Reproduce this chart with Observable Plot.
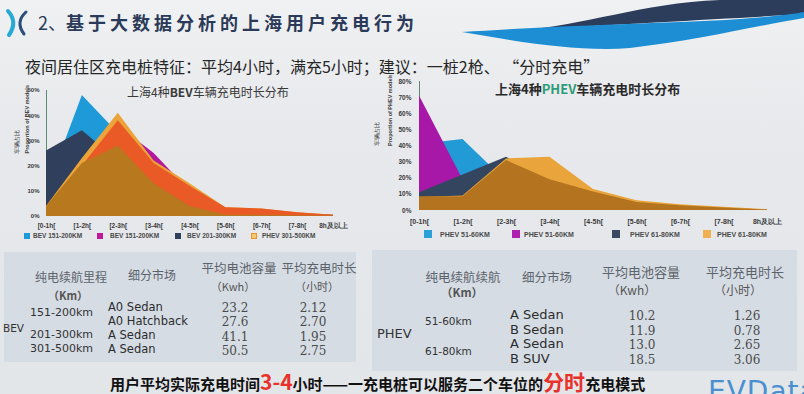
<!DOCTYPE html>
<html><head><meta charset="utf-8">
<script src="https://cdn.jsdelivr.net/npm/d3@7"></script>
<script src="https://cdn.jsdelivr.net/npm/@observablehq/plot@0.6"></script>
<style>
html,body{margin:0;padding:0;}
body{width:804px;height:394px;overflow:hidden;position:relative;
 background:linear-gradient(180deg,#f0f1f3 0px,#eceef0 40px,#e7e9ec 130px,#e3e6e9 394px);
 font-family:"Noto Sans CJK SC","Noto Sans",sans-serif;}
.abs{position:absolute;white-space:nowrap;line-height:1;}
.box{position:absolute;background:#d5dce4;}
</style></head><body>
<svg class="abs" style="left:0;top:0" width="804" height="60">
  <path d="M520,30 C585,26 640,3 720,0 L804,0 L804,14 C740,18 640,23 520,30 Z" fill="#2c3d5b"/>
  <path d="M462,32 C520,28 600,25 680,22 C740,20 790,15 804,12 L804,18 C760,25 700,40 630,48 C580,52 520,42 462,32 Z" fill="#1d8ed4"/>
  <path d="M8,11 Q18,22 9,35" stroke="#27a9d6" stroke-width="4" fill="none" stroke-linecap="round"/>
  <path d="M26,12 Q15,22 24,34" stroke="#2a4f7a" stroke-width="3" fill="none" stroke-linecap="round"/>
</svg>
<div class="box" style="left:4px;top:252px;width:352px;height:110px"></div>
<div class="box" style="left:372px;top:250px;width:425px;height:121px"></div>
<div id="left" class="abs" style="left:5px;top:82px"></div>
<div id="right" class="abs" style="left:370px;top:75px"></div>
<script>
// ---------------- data ----------------
const hours = ["[0-1h[","[1-2h[","[2-3h[","[3-4h[","[4-5h[","[5-6h[","[6-7h[","[7-8h[","8h及以上"];

// BEV chart layers (percent), back to front as seen in the picture
const bevBlue    = [10, 48, 33, 18, 9, 2, 2, 1, 0.5];
const bevMagenta = [5, 15, 36, 25, 10, 2, 2, 1, 0.5];
const bevNavy    = [26, 34, 22, 12, 6, 1, 1, 0.5, 0.3];
const bevGold    = [4, 23, 41, 22, 13, 3.5, 3, 1.5, 0.5];
const bevOrange  = [3, 20, 38, 21, 12, 3.5, 3, 1.5, 0.5];
const bevBrown   = [4, 21, 28, 13, 4, 0.5, 0.5, 0.3, 0.2];
const bevTicks   = [0, 10, 20, 30, 40, 50];
const bevLegend  = ["BEV 151-200KM","BEV 151-200KM","BEV 201-300KM","PHEV 301-500KM"];

// PHEV chart layers (percent)
const phevBlue    = [41, 44, 18, 10, 6, 3, 2, 1, 0.3];
const phevMagenta = [71, 19, 12, 8, 5, 3, 2, 1, 0.3];
const phevNavy    = [11, 22, 33, 18, 10, 5, 3, 1.5, 0.3];
const phevGold    = [8, 9, 32, 33, 13, 6, 3.5, 2, 0.5];
const phevBrown   = [8.5, 8.5, 31, 19, 11.5, 5, 3, 1.5, 0.3];
const phevTicks   = [0, 10, 20, 30, 40, 50, 60, 70, 80];
const phevLegend  = ["PHEV 51-60KM","PHEV 51-60KM","PHEV 61-80KM","PHEV 61-80KM"];

// tables
const bevRanges   = ["151-200km","201-300km","301-500km"];
const bevRangeRows = [[0,1],[2],[3]];
const bevSegments = ["A0 Sedan","A0 Hatchback","A Sedan","A Sedan"];
const bevCapacity = [23.2, 27.6, 41.1, 50.5];
const bevTime     = [2.12, 2.70, 1.95, 2.75];
const phevRanges   = ["51-60km","61-80km"];
const phevRangeRows = [[0,1],[2,3]];
const phevSegments = ["A Sedan","B Sedan","A Sedan","B SUV"];
const phevCapacity = [10.2, 11.9, 13.0, 18.5];
const phevTime     = [1.26, 0.78, 2.65, 3.06];

// ---------------- helpers ----------------
function put(html, x, y, style = {}, align = "left") {
  const d = document.createElement("div");
  d.className = "abs";
  d.style.left = x + "px";
  d.style.top = y + "px";
  const tx = align === "center" ? "-50%" : align === "right" ? "-100%" : "0";
  d.style.transform = `translate(${tx},-50%)`;
  Object.assign(d.style, style);
  d.innerHTML = html;
  document.body.appendChild(d);
  return d;
}

// ---------------- texts ----------------
put('<span style="font-weight:400;letter-spacing:0">2、</span>基于大数据分析的上海用户充电行为', 38, 22,
    {fontSize:"18px", fontWeight:"700", color:"#2b3a58", letterSpacing:"4px"});
put('夜间居住区充电桩特征：平均4小时，满充5小时；建议：一桩2枪、 “分时充电”', 25, 66,
    {fontSize:"16px", color:"#262626"});
put('上海4种<b>BEV</b>车辆充电时长分布', 127, 92, {fontSize:"12px", color:"#3a3a3a"});
put('上海4种<span style="color:#2d9c78">PHEV</span>车辆充电时长分布', 495, 88, {fontSize:"13px", fontWeight:"700", color:"#2a2a2a"});

// ---------------- charts ----------------
const tickFont = "Liberation Sans, Arial, sans-serif";
function areaChart({layers, ticks, ymax, width, height, mL, mR, mT, mB, pad, xPad, fs, label, dxA, dxB}) {
  return Plot.plot({
    width, height, marginLeft: mL, marginRight: mR, marginTop: mT, marginBottom: mB,
    style: {background: "transparent", fontFamily: tickFont, color: "#3a3a3a", fontWeight: "bold", fontSize: fs + "px"},
    x: {domain: [0, hours.length - 1]},
    y: {domain: [0, ymax]},
    marks: [
      Plot.ruleX([0], {y1: 0, y2: ymax, stroke: "#5d8a73", strokeWidth: 1}),
      ...layers.map(l => Plot.areaY(l.values, {x: (d, i) => i, y1: 0, y2: d => d, fill: l.color})),
      Plot.axisX({ticks: d3.range(hours.length), tickFormat: i => hours[i], tickSize: 0, tickPadding: xPad, fontSize: fs + 0.5, label: null}),
      Plot.axisY({ticks, tickFormat: d => d + "%", tickSize: 0, tickPadding: pad, fontSize: fs, label: null}),
      Plot.text([label], {text: d => d, frameAnchor: "left", rotate: -90, dx: dxA, fontSize: 5.5, fill: "#444"}),
      Plot.text(["车辆占比"], {text: d => d, frameAnchor: "left", rotate: -90, dx: dxB, fontSize: 5.5, fill: "#444", fontWeight: "normal"})
    ]
  });
}

document.getElementById("left").appendChild(areaChart({
  layers: [
    {values: bevBlue, color: "#1f9ad8"},
    {values: bevMagenta, color: "#b4189c"},
    {values: bevNavy, color: "#2f3f5c"},
    {values: bevGold, color: "#eaa43a"},
    {values: bevOrange, color: "#ea5a26"},
    {values: bevBrown, color: "#b8781e"}
  ],
  ticks: bevTicks, ymax: 50, width: 348, height: 152, mL: 41, mR: 20, mT: 8, mB: 18,
  pad: 7, xPad: 7, fs: 6, label: "Proportion of BEV models", dxA: -19, dxB: -29
}));

document.getElementById("right").appendChild(areaChart({
  layers: [
    {values: phevBlue, color: "#229ad6"},
    {values: phevMagenta, color: "#a818a8"},
    {values: phevNavy, color: "#34455f"},
    {values: phevGold, color: "#e9a53c"},
    {values: phevBrown, color: "#b4741f"}
  ],
  ticks: phevTicks, ymax: 80, width: 425, height: 155, mL: 49, mR: 28, mT: 6, mB: 20,
  pad: 8, xPad: 9, fs: 6.5, label: "Proportion of PHEV models", dxA: -29, dxB: -42
}));

// ---------------- legends ----------------
function legend(labels, colors, sq, tx, y, fs, size, hollow) {
  labels.forEach((lab, i) => {
    const s = document.createElement("div");
    s.className = "abs";
    Object.assign(s.style, {left: sq[i] + "px", top: (y - size / 2) + "px", width: size + "px", height: size + "px",
      background: colors[i], boxSizing: "border-box"});
    if (hollow[i]) { s.style.background = "#f3c877"; s.style.border = "1px solid #e5952a"; }
    document.body.appendChild(s);
    put(lab, tx[i], y, {fontSize: fs + "px", fontWeight: "bold", color: "#4a4a4a", fontFamily: tickFont});
  });
}
legend(bevLegend, ["#1f9ad8","#c0189a","#2f3f5c","#f3c877"], [24, 97, 175, 251], [33, 110, 187, 262], 236, 6.5, 6, [false,false,false,true]);
legend(phevLegend, ["#2aa0d8","#b020b0","#3a4a60","#f0b050"], [424, 512, 612, 703], [440, 524, 630, 717], 234, 7, 8, [false,false,false,false]);

// ---------------- tables ----------------
const hdr = {fontSize: "12.5px", color: "#5d636b"};
const sansT = "DejaVu Sans, Verdana, sans-serif";
const serifT = "DejaVu Serif, serif";
// BEV table
put("纯电续航里程", 71, 277, {...hdr, fontSize: "12px"}, "center");
put("（Km）", 68, 295, {...hdr, fontSize: "11px", fontWeight: "700", color: "#555"}, "center");
put("细分市场", 152, 275, {...hdr, fontSize: "12px"}, "center");
put("平均电池容量", 239, 268, {...hdr, fontSize: "12.5px"}, "center");
put("（Kwh）", 233, 285.5, {...hdr, fontSize: "11px", color: "#555"}, "center");
put("平均充电时长", 319, 268, {...hdr, fontSize: "12.5px"}, "center");
put("（小时）", 317, 285.5, {...hdr, fontSize: "11px", color: "#555"}, "center");
put("BEV", 3, 328, {fontSize: "10.5px", fontFamily: sansT, color: "#333"});
const bevRowY = i => 307.5 + i * 14.3;
bevRanges.forEach((r, k) => {
  const rows = bevRangeRows[k];
  put(r, 30, bevRowY(d3.mean(rows)) - 2.5, {fontSize: "11px", fontFamily: sansT, color: "#333"});
});
bevSegments.forEach((s, i) => put(s, 108, bevRowY(i), {fontSize: "11.5px", fontFamily: sansT, color: "#2c2c2c"}));
bevCapacity.forEach((v, i) => put(v.toFixed(1), 235, bevRowY(i) + 0.5, {fontSize: "12px", fontFamily: serifT, color: "#4a4a4a"}, "center"));
bevTime.forEach((v, i) => put(v.toFixed(2), 313, bevRowY(i) + 0.5, {fontSize: "12px", fontFamily: serifT, color: "#4a4a4a"}, "center"));

// PHEV table
put("纯电续航续航", 463, 277, {...hdr, fontSize: "12.5px"}, "center");
put("（Km）", 462, 293, {...hdr, fontSize: "11.5px", fontWeight: "700", color: "#555"}, "center");
put("细分市场", 547, 277, {...hdr, fontSize: "12.5px"}, "center");
put("平均电池容量", 641, 271, {...hdr, fontSize: "13px"}, "center");
put("（Kwh）", 632, 290, {...hdr, fontSize: "12px", color: "#555"}, "center");
put("平均充电时长", 745, 271, {...hdr, fontSize: "13px"}, "center");
put("（小时）", 738, 290, {...hdr, fontSize: "12px", color: "#555"}, "center");
put("PHEV", 377, 333, {fontSize: "13px", fontFamily: sansT, color: "#333"});
const phevRowY = i => 314 + i * 14.7;
phevRanges.forEach((r, k) => {
  put(r, 425, phevRowY(d3.mean(phevRangeRows[k])), {fontSize: "10.5px", fontFamily: sansT, color: "#333"});
});
phevSegments.forEach((s, i) => put(s, 510, phevRowY(i), {fontSize: "13px", fontFamily: sansT, color: "#2c2c2c"}));
phevCapacity.forEach((v, i) => put(v.toFixed(1), 642, phevRowY(i) + 2, {fontSize: "12px", fontFamily: serifT, color: "#4a4a4a"}, "center"));
phevTime.forEach((v, i) => put(v.toFixed(2), 747, phevRowY(i) + 2, {fontSize: "12px", fontFamily: serifT, color: "#4a4a4a"}, "center"));

// ---------------- footer ----------------
put('用户平均实际充电时间<span style="color:#e8312a;font-size:21px;line-height:22px">3-4</span>小时——一充电桩可以服务二个车位的<span style="color:#e8312a;font-size:21px;line-height:22px">分时</span>充电模式',
    110, 382, {fontSize: "15px", fontWeight: "700", color: "#111", lineHeight: "22px"});
put('EVData', 708, 392, {fontSize: "28px", color: "#4a90d0", fontFamily: sansT, letterSpacing: "1px"});
</script>
</body></html>
